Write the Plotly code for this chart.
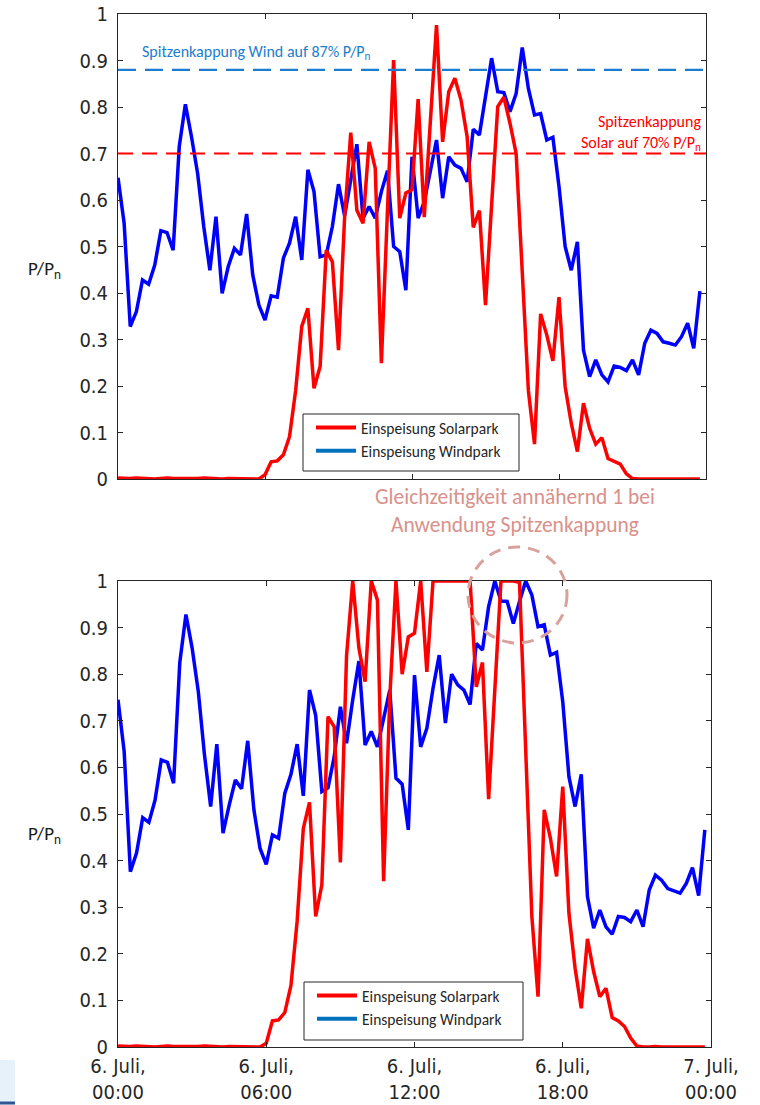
import plotly.graph_objects as go
import pandas as pd

# ---------------- data (15-min values, 6. Juli 00:00 - 23:45) ----------------
times = pd.date_range("2019-07-06 00:00", periods=96, freq="15min")

solar_top = [0.002, 0.001, 0.001, 0.002, 0.001, 0.001, 0.0, 0.001, 0.002, 0.001, 0.001, 0.0,
             0.001, 0.001, 0.002, 0.001, 0.001, 0.0, 0.001, 0.001, 0.001, 0.0, 0.001, 0.0,
             0.009, 0.037, 0.039, 0.052, 0.091, 0.19, 0.328, 0.367, 0.195, 0.242,
             0.492, 0.467, 0.277, 0.564, 0.745, 0.578, 0.55, 0.725, 0.668, 0.249,
             0.58, 0.901, 0.561, 0.615, 0.622, 0.817, 0.563, 0.77, 0.976, 0.725,
             0.833, 0.862, 0.815, 0.736, 0.541, 0.577, 0.374, 0.59, 0.801, 0.821,
             0.765, 0.70, 0.45, 0.19, 0.075, 0.355, 0.31, 0.254, 0.391, 0.199,
             0.12, 0.059, 0.163, 0.109, 0.075, 0.089, 0.044, 0.039, 0.032, 0.011,
             0.001, 0.0, 0.0, 0.001, 0.0, 0.0, 0.001, 0.0, 0.0, 0.0, 0.001, 0.0]

wind_top = [0.648, 0.55, 0.328, 0.36, 0.428, 0.419, 0.46, 0.534, 0.530, 0.492,
            0.715, 0.806, 0.736, 0.657, 0.543, 0.449, 0.564, 0.399, 0.457, 0.496,
            0.482, 0.570, 0.439, 0.374, 0.342, 0.394, 0.391, 0.475, 0.507, 0.564,
            0.471, 0.665, 0.618, 0.478, 0.482, 0.543, 0.634, 0.566, 0.643, 0.720,
            0.561, 0.586, 0.561, 0.618, 0.663, 0.500, 0.489, 0.406, 0.693, 0.561,
            0.596, 0.665, 0.729, 0.604, 0.693, 0.675, 0.668, 0.639, 0.752, 0.740,
            0.822, 0.905, 0.833, 0.831, 0.790, 0.829, 0.928, 0.840, 0.783, 0.786,
            0.729, 0.735, 0.629, 0.500, 0.449, 0.510, 0.277, 0.220, 0.256, 0.224,
            0.209, 0.243, 0.240, 0.233, 0.256, 0.224, 0.292, 0.320, 0.313, 0.295,
            0.292, 0.288, 0.306, 0.335, 0.281, 0.404]

solar_bottom = [0.002, 0.001, 0.001, 0.002, 0.001, 0.001, 0.0, 0.001, 0.002, 0.001, 0.001, 0.0,
                0.001, 0.001, 0.002, 0.001, 0.001, 0.0, 0.001, 0.001, 0.001, 0.0, 0.001, 0.0,
                0.008, 0.056, 0.058, 0.074, 0.132, 0.27, 0.469, 0.525, 0.28, 0.348,
                0.709, 0.687, 0.396, 0.84, 1.0, 0.856, 0.784, 1.0, 0.959, 0.356,
                0.75, 1.0, 0.80, 0.88, 0.888, 1.0, 0.805, 1.0, 1.0, 1.0,
                1.0, 1.0, 1.0, 1.0, 0.773, 0.825, 0.532, 0.77, 1.0, 1.0,
                1.0, 0.997, 0.64, 0.28, 0.108, 0.509, 0.448, 0.366, 0.559, 0.287,
                0.169, 0.083, 0.232, 0.162, 0.108, 0.126, 0.063, 0.056, 0.044, 0.019,
                0.002, 0.0, 0.0, 0.001, 0.0, 0.0, 0.001, 0.0, 0.0, 0.0, 0.001, 0.0]

wind_bottom = [0.745, 0.634, 0.376, 0.416, 0.492, 0.482, 0.530, 0.616, 0.611, 0.566,
               0.825, 0.928, 0.856, 0.763, 0.627, 0.516, 0.650, 0.459, 0.519, 0.573,
               0.554, 0.657, 0.509, 0.426, 0.392, 0.455, 0.448, 0.544, 0.585, 0.650,
               0.539, 0.766, 0.712, 0.548, 0.556, 0.623, 0.730, 0.652, 0.745, 0.828,
               0.648, 0.677, 0.644, 0.705, 0.766, 0.577, 0.564, 0.466, 0.798, 0.644,
               0.684, 0.770, 0.841, 0.695, 0.800, 0.777, 0.766, 0.735, 0.866, 0.852,
               0.945, 1.0, 0.957, 0.956, 0.909, 0.956, 1.0, 0.970, 0.902, 0.906,
               0.841, 0.847, 0.741, 0.580, 0.516, 0.585, 0.323, 0.255, 0.294, 0.258,
               0.242, 0.280, 0.278, 0.269, 0.294, 0.258, 0.337, 0.369, 0.358, 0.340,
               0.335, 0.330, 0.351, 0.385, 0.325, 0.466]

wind_cap = 0.88
solar_cap = 0.70

tick_vals = ["2019-07-06 00:00", "2019-07-06 06:00", "2019-07-06 12:00",
             "2019-07-06 18:00", "2019-07-07 00:00"]
tick_text = ["6. Juli,<br>00:00", "6. Juli,<br>06:00", "6. Juli,<br>12:00",
             "6. Juli,<br>18:00", "7. Juli,<br>00:00"]
y_ticks = [0, 0.1, 0.2, 0.3, 0.4, 0.5, 0.6, 0.7, 0.8, 0.9, 1]

# ---------------- style ----------------
RED = "#FF0000"
BLUE = "#0000FF"
LEG_BLUE = "#0072BD"
CAP_BLUE = "#1C7DD0"
AX = "#262626"
NUM_FONT = "Liberation Sans Narrow, DejaVu Sans Condensed, Liberation Sans, Arial, sans-serif"
TXT_FONT = "Carlito, Lato, Open Sans, sans-serif"

W, H = 760, 1105
ML, MR, MT, MB = 118, 49, 14, 58
PW = W - ML - MR
PH = H - MT - MB


def px_x(px):
    return (px - ML) / PW


def px_y(py):
    return (H - MB - py) / PH


fig = go.Figure()

for xa, ya, s, w, lg in [("x", "y", solar_top, wind_top, "legend"),
                         ("x2", "y2", solar_bottom, wind_bottom, "legend2")]:
    fig.add_trace(go.Scatter(x=times, y=w, mode="lines", xaxis=xa, yaxis=ya,
                             line=dict(color=BLUE, width=3.5), showlegend=False,
                             cliponaxis=False))
    fig.add_trace(go.Scatter(x=times, y=s, mode="lines", xaxis=xa, yaxis=ya,
                             line=dict(color=RED, width=3.5), showlegend=False,
                             cliponaxis=False))
    fig.add_trace(go.Scatter(x=[None], y=[None], mode="lines", xaxis=xa, yaxis=ya,
                             line=dict(color=RED, width=4), name="Einspeisung Solarpark",
                             legend=lg))
    fig.add_trace(go.Scatter(x=[None], y=[None], mode="lines", xaxis=xa, yaxis=ya,
                             line=dict(color=LEG_BLUE, width=4), name="Einspeisung Windpark",
                             legend=lg))

axis_common = dict(showline=True, linecolor=AX, linewidth=1, mirror="ticks",
                   ticks="inside", ticklen=5, tickcolor=AX, showgrid=False,
                   zeroline=False, automargin=False)

x_range = ["2019-07-06 00:00", "2019-07-07 00:00"]
top_bottom_px = 479
top_right_px = 706

leg_font = dict(family=TXT_FONT, size=15.5, color=AX)
ytick_font = dict(family=NUM_FONT, size=20, color=AX)

fig.update_layout(
    width=W, height=H,
    margin=dict(l=ML, r=MR, t=MT, b=MB),
    paper_bgcolor="white", plot_bgcolor="white",
    xaxis=dict(domain=[0, px_x(top_right_px)], anchor="y", range=x_range,
               tickvals=tick_vals, showticklabels=False, **axis_common),
    yaxis=dict(domain=[px_y(top_bottom_px), 1], anchor="x", range=[0, 1],
               tickvals=y_ticks, ticklabelstandoff=5, tickfont=ytick_font, **axis_common),
    xaxis2=dict(domain=[0, 1], anchor="y2", range=x_range,
                tickvals=tick_vals, ticktext=tick_text, ticklabelstandoff=1,
                tickfont=dict(family=NUM_FONT, size=20, color=AX), **axis_common),
    yaxis2=dict(domain=[0, px_y(581)], anchor="x2", range=[0, 1],
                tickvals=y_ticks, ticklabelstandoff=5, tickfont=ytick_font, **axis_common),
    legend=dict(x=px_x(311), y=px_y(411), xanchor="left", yanchor="top",
                bgcolor="rgba(0,0,0,0)", borderwidth=0, itemwidth=40, font=leg_font),
    legend2=dict(x=px_x(312), y=px_y(979), xanchor="left", yanchor="top",
                 bgcolor="rgba(0,0,0,0)", borderwidth=0, itemwidth=40, font=leg_font),
    showlegend=True,
)

# legend frames
for (lx0, ly0, lx1, ly1) in [(303, 414, 519, 471), (304, 982, 523, 1040)]:
    fig.add_shape(type="rect", xref="paper", yref="paper",
                  x0=px_x(lx0), x1=px_x(lx1), y0=px_y(ly1), y1=px_y(ly0),
                  fillcolor="white", line=dict(color=AX, width=1), layer="above")

# cap lines
fig.add_shape(type="line", xref="x domain", yref="y", x0=0, x1=1, y0=wind_cap, y1=wind_cap,
              line=dict(color=CAP_BLUE, width=2.2, dash="18px,9px"), layer="above")
fig.add_shape(type="line", xref="x domain", yref="y", x0=0, x1=1, y0=solar_cap, y1=solar_cap,
              line=dict(color=RED, width=2.2, dash="15px,9px"), layer="above")

# annotations
fig.add_annotation(xref="paper", yref="paper", x=px_x(140), y=px_y(53), xanchor="left",
                   yanchor="middle", showarrow=False,
                   text="Spitzenkappung Wind auf 87% P/P<sub>n</sub>",
                   font=dict(family=TXT_FONT, size=16, color=CAP_BLUE))
fig.add_annotation(xref="paper", yref="paper", x=px_x(703), y=px_y(133), xanchor="right",
                   yanchor="middle", showarrow=False, align="right",
                   text="Spitzenkappung<br>Solar auf 70% P/P<sub>n</sub>",
                   font=dict(family=TXT_FONT, size=16, color=RED))
fig.add_annotation(xref="paper", yref="paper", x=px_x(515), y=px_y(511), xanchor="center",
                   yanchor="middle", showarrow=False, align="center",
                   text="Gleichzeitigkeit annähernd 1 bei<br>Anwendung Spitzenkappung",
                   font=dict(family=TXT_FONT, size=21.5, color="#D9918B"))
for yc in (270, 835):
    fig.add_annotation(xref="paper", yref="paper", x=px_x(44), y=px_y(yc), xanchor="center",
                       yanchor="middle", showarrow=False,
                       text="P/P<sub>n</sub>",
                       font=dict(family=TXT_FONT, size=19, color="#1a1a1a"))

# dashed ellipse highlighting coincidence
fig.add_shape(type="circle", xref="paper", yref="paper",
              x0=px_x(468), x1=px_x(567), y0=px_y(643), y1=px_y(547),
              line=dict(color="#D9A19B", width=3, dash="12px,8px"), layer="above")

# slide remnant at bottom-left
fig.add_shape(type="rect", xref="paper", yref="paper", x0=px_x(0), x1=px_x(15),
              y0=px_y(1105), y1=px_y(1060), fillcolor="#E6F1FA", line=dict(width=0),
              layer="below")
fig.add_shape(type="line", xref="paper", yref="paper", x0=px_x(0), x1=px_x(15),
              y0=px_y(1103), y1=px_y(1103), line=dict(color="#2F5597", width=3))

fig.write_html("out.html", config={"displayModeBar": False},
               post_script="document.body.style.margin='0';document.body.style.padding='0';")
